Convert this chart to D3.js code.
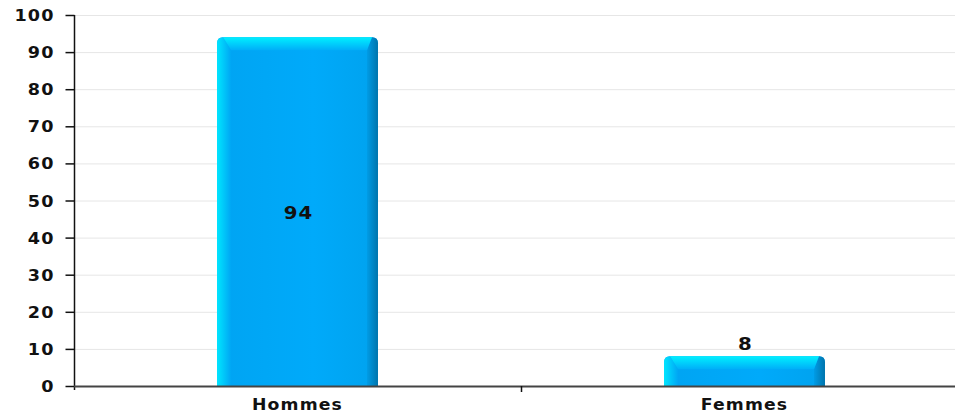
<!DOCTYPE html>
<html>
<head>
<meta charset="utf-8">
<style>
  body { margin: 0; background: #fff; }
  svg { display: block; }
  text { font-family: "DejaVu Sans", sans-serif; font-weight: bold; fill: #111; }
</style>
</head>
<body>
<div id="chart"></div>
<script src="https://d3js.org/d3.v7.min.js"></script>
<script>
  // données
  const categories = ['Hommes', 'Femmes'];
  const values = [94, 8];
  const yTicks = [0, 10, 20, 30, 40, 50, 60, 70, 80, 90, 100];

  const W = 955, H = 417;
  const svg = d3.select('#chart').append('svg')
      .attr('width', W)
      .attr('height', H);

  const x = d3.scaleBand().domain(categories).range([74, 968]);
  const y = d3.scaleLinear().domain([0, 100]).range([386, 15]);

  // dégradés
  const defs = svg.append('defs');
  const g1 = defs.append('linearGradient').attr('id', 'body')
      .attr('x1', 0).attr('x2', 1).attr('y1', 0).attr('y2', 0);
  g1.append('stop').attr('offset', '0%').attr('stop-color', '#00a4f2');
  g1.append('stop').attr('offset', '60%').attr('stop-color', '#00aafa');
  g1.append('stop').attr('offset', '100%').attr('stop-color', '#00a2ee');

  const gl = defs.append('linearGradient').attr('id', 'left')
      .attr('x1', 0).attr('x2', 1).attr('y1', 0).attr('y2', 0);
  gl.append('stop').attr('offset', '0%').attr('stop-color', '#00e6ff');
  gl.append('stop').attr('offset', '100%').attr('stop-color', '#00a6f4');

  const gr = defs.append('linearGradient').attr('id', 'right')
      .attr('x1', 0).attr('x2', 1).attr('y1', 0).attr('y2', 0);
  gr.append('stop').attr('offset', '0%').attr('stop-color', '#009ce6');
  gr.append('stop').attr('offset', '100%').attr('stop-color', '#0074ac');

  const gt = defs.append('linearGradient').attr('id', 'top')
      .attr('x1', 0).attr('x2', 0).attr('y1', 0).attr('y2', 1);
  gt.append('stop').attr('offset', '0%').attr('stop-color', '#00f0ff');
  gt.append('stop').attr('offset', '100%').attr('stop-color', '#00aef8');

  // grille
  svg.append('g').selectAll('line')
    .data(yTicks.filter(d => d > 0))
    .enter().append('line')
    .attr('x1', 74).attr('x2', W)
    .attr('y1', d => y(d) + 0.5).attr('y2', d => y(d) + 0.5)
    .attr('stroke', '#e6e6e6').attr('stroke-width', 1);

  // barres
  const bw = x.bandwidth() * 0.36;
  const data = categories.map((c, i) => ({ c, v: values[i] }));
  const bars = svg.append('g').selectAll('g')
    .data(data)
    .enter().append('g');

  bars.each(function(d) {
    const g = d3.select(this);
    const x0 = x(d.c) + x.bandwidth() / 2 - bw / 2;
    const x1 = x0 + bw;
    const yt = y(d.v), yb = y(0);
    const bl = 14, brt = 11;
    const bt = Math.min(13, (yb - yt) / 2);
    const r = 6;
    g.append('path')
      .attr('d', `M${x0},${yb} L${x0},${yt + r} Q${x0},${yt} ${x0 + r},${yt} L${x1 - r},${yt} Q${x1},${yt} ${x1},${yt + r} L${x1},${yb} Z`)
      .attr('fill', 'url(#body)');
    // biseau gauche
    g.append('path')
      .attr('d', `M${x0},${yb} L${x0},${yt + r} Q${x0},${yt} ${x0 + r},${yt} L${x0 + bl},${yt + bt} L${x0 + bl},${yb} Z`)
      .attr('fill', 'url(#left)');
    // biseau droit
    g.append('path')
      .attr('d', `M${x1},${yb} L${x1},${yt + r} Q${x1},${yt} ${x1 - r},${yt} L${x1 - brt},${yt + bt} L${x1 - brt},${yb} Z`)
      .attr('fill', 'url(#right)');
    // biseau haut
    g.append('path')
      .attr('d', `M${x0 + r},${yt} L${x1 - r},${yt} L${x1 - brt},${yt + bt} L${x0 + bl},${yt + bt} Z`)
      .attr('fill', 'url(#top)');
  });

  // texte un peu élargi, comme dans le rendu d'origine
  const wide = (sel, sx) => sel.attr('transform', function() {
    return `translate(${this.getAttribute('data-x')},${this.getAttribute('data-y')}) scale(${sx},1)`;
  });

  // étiquettes de valeur
  svg.append('g').selectAll('text')
    .data(data)
    .enter().append('text')
    .attr('data-x', d => x(d.c) + x.bandwidth() / 2 + 1)
    .attr('data-y', d => d.v > 30 ? (y(d.v) + y(0)) / 2 + 7 : y(d.v) - 6)
    .attr('text-anchor', 'middle')
    .style('font-size', '18px')
    .style('letter-spacing', '1px')
    .text(d => d.v)
    .call(wide, 1.1);

  // axe Y
  const yAxis = svg.append('g').attr('transform', 'translate(74.5,0)');
  yAxis.append('line').attr('x1', 0).attr('x2', 0)
    .attr('y1', y(100)).attr('y2', y(0) + 4)
    .attr('stroke', '#111').attr('stroke-width', 1.5);
  yAxis.selectAll('.tk').data(yTicks).enter().append('line')
    .attr('x1', -9).attr('x2', 0)
    .attr('y1', d => y(d) + 0.5).attr('y2', d => y(d) + 0.5)
    .attr('stroke', '#111').attr('stroke-width', 1.5);
  yAxis.selectAll('text').data(yTicks).enter().append('text')
    .attr('data-x', -20).attr('data-y', d => y(d) + 6)
    .attr('text-anchor', 'end')
    .style('font-size', '16px')
    .style('letter-spacing', '1px')
    .text(d => d)
    .call(wide, 1.1);

  // axe X
  svg.append('line')
    .attr('x1', 74).attr('x2', W)
    .attr('y1', y(0) + 0.5).attr('y2', y(0) + 0.5)
    .attr('stroke', '#444').attr('stroke-width', 2);
  svg.append('line')
    .attr('x1', x('Femmes') + 0.5).attr('x2', x('Femmes') + 0.5)
    .attr('y1', y(0)).attr('y2', y(0) + 6)
    .attr('stroke', '#111').attr('stroke-width', 1.5);
  svg.append('g').selectAll('text')
    .data(categories).enter().append('text')
    .attr('data-x', d => x(d) + x.bandwidth() / 2)
    .attr('data-y', 410)
    .attr('text-anchor', 'middle')
    .style('font-size', '15px')
    .style('letter-spacing', '1px')
    .text(d => d)
    .call(wide, 1.15);
</script>
</body>
</html>
